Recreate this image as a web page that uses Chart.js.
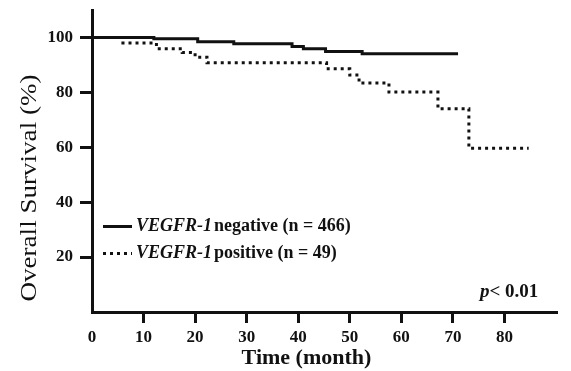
<!DOCTYPE html>
<html>
<head>
<meta charset="utf-8">
<script src="https://cdn.jsdelivr.net/npm/chart.js@4/dist/chart.umd.min.js"></script>
<style>
  html, body { margin: 0; padding: 0; background: #fff; }
  #wrap { width: 571px; height: 371px; position: relative; }
</style>
</head>
<body>
<div id="wrap"><canvas id="c" width="571" height="371"></canvas></div>
<script>
// ---- data ----
const negTimes  = [0, 12, 20.5, 27.5, 38.8, 41, 45.3, 52.4, 71];
const negValues = [100, 99.5, 98.4, 97.7, 96.7, 95.9, 94.9, 94.1, 94.1];
const posTimes  = [0, 6, 12.5, 17.5, 20, 22.3, 45.5, 50, 51.8, 57.6, 67.1, 73.1, 84.7];
const posValues = [100, 98, 95.9, 94.5, 92.8, 90.8, 88.6, 86.3, 83.4, 80.1, 74, 59.6, 59.6];
const xTickValues = [0, 10, 20, 30, 40, 50, 60, 70, 80];
const yTickValues = [20, 40, 60, 80, 100];
const xTitle = 'Time (month)';
const yTitle = 'Overall Survival (%)';
const legendGenes  = ['VEGFR-1', 'VEGFR-1'];
const legendLabels = ['negative (n = 466)', 'positive (n = 49)'];
const pItalic = 'p';
const pRest = '< 0.01';

const SERIF = "'Liberation Serif', 'Times New Roman', serif";

const toPts = (t, v) => t.map((x, i) => ({ x: x, y: v[i] }));

const overlay = {
  id: 'overlay',
  afterDraw(chart) {
    const ctx = chart.ctx;
    ctx.save();
    ctx.fillStyle = '#111';
    // legend
    const rows = [226.5, 253.5];
    chart.data.datasets.forEach((ds, i) => {
      const y = rows[i];
      ctx.beginPath();
      ctx.setLineDash(ds.borderDash || []);
      ctx.lineWidth = ds.borderWidth;
      ctx.strokeStyle = ds.borderColor;
      ctx.moveTo(103, y);
      ctx.lineTo(132, y);
      ctx.stroke();
      ctx.setLineDash([]);
      ctx.textBaseline = 'middle';
      ctx.textAlign = 'left';
      let x = 136;
      ctx.font = 'italic bold 18px ' + SERIF;
      ctx.fillText(legendGenes[i], x, y);
      x += ctx.measureText(legendGenes[i]).width + 2;
      ctx.font = 'bold 18px ' + SERIF;
      ctx.fillText(legendLabels[i], x, y);
    });
    // p-value
    let px = 480, py = 292;
    ctx.font = 'italic bold 19px ' + SERIF;
    ctx.textBaseline = 'middle';
    ctx.fillText(pItalic, px, py);
    px += ctx.measureText(pItalic).width;
    ctx.font = 'bold 19px ' + SERIF;
    ctx.fillText(pRest, px, py);
    // x axis title
    ctx.font = 'bold 22px ' + SERIF;
    ctx.textAlign = 'center';
    ctx.fillText(xTitle, 306.5, 358);
    // y axis title (stretched along its length)
    ctx.font = 'normal 23px ' + SERIF;
    const w = ctx.measureText(yTitle).width;
    ctx.translate(30, 188);
    ctx.rotate(-Math.PI / 2);
    ctx.scale(227 / w, 1);
    ctx.fillText(yTitle, 0, 0);
    ctx.restore();
  }
};

new Chart(document.getElementById('c'), {
  type: 'line',
  data: {
    datasets: [
      {
        label: 'VEGFR-1 negative (n = 466)',
        data: toPts(negTimes, negValues),
        borderColor: '#111',
        borderWidth: 3,
        stepped: true,
        pointRadius: 0,
        fill: false
      },
      {
        label: 'VEGFR-1 positive (n = 49)',
        data: toPts(posTimes, posValues),
        borderColor: '#111',
        borderWidth: 3,
        borderDash: [3, 4],
        borderCapStyle: 'butt',
        stepped: true,
        pointRadius: 0,
        fill: false
      }
    ]
  },
  options: {
    responsive: false,
    animation: false,
    layout: { padding: { top: 10, right: 15, bottom: 0, left: 0 } },
    plugins: { legend: { display: false }, tooltip: { enabled: false } },
    scales: {
      x: {
        type: 'linear',
        min: 0, max: 90,
        afterBuildTicks: s => { s.ticks = xTickValues.map(v => ({ value: v })); },
        afterFit: s => { s.height = 59; s.paddingLeft = 0; s.paddingRight = 0; },
        border: { display: true, color: '#111', width: 3 },
        grid: {
          drawOnChartArea: false, drawTicks: true, tickLength: 11,
          lineWidth: 3,
          color: ctx => (ctx.tick && ctx.tick.value === 0) ? 'rgba(0,0,0,0)' : '#111'
        },
        ticks: {
          padding: 4, color: '#111',
          font: { family: SERIF, size: 17, weight: 'bold' },
          maxRotation: 0, autoSkip: false
        },
        title: { display: false }
      },
      y: {
        type: 'linear',
        min: 0, max: 110,
        afterBuildTicks: s => { s.ticks = yTickValues.map(v => ({ value: v })); },
        afterFit: s => { s.width = 92; s.paddingTop = 0; s.paddingBottom = 0; },
        border: { display: true, color: '#111', width: 3 },
        grid: {
          drawOnChartArea: false, drawTicks: true, tickLength: 12,
          lineWidth: 3, color: '#111'
        },
        ticks: {
          padding: 7, color: '#111',
          font: { family: SERIF, size: 17, weight: 'bold' },
          autoSkip: false
        },
        title: { display: false }
      }
    }
  },
  plugins: [overlay]
});
</script>
</body>
</html>
